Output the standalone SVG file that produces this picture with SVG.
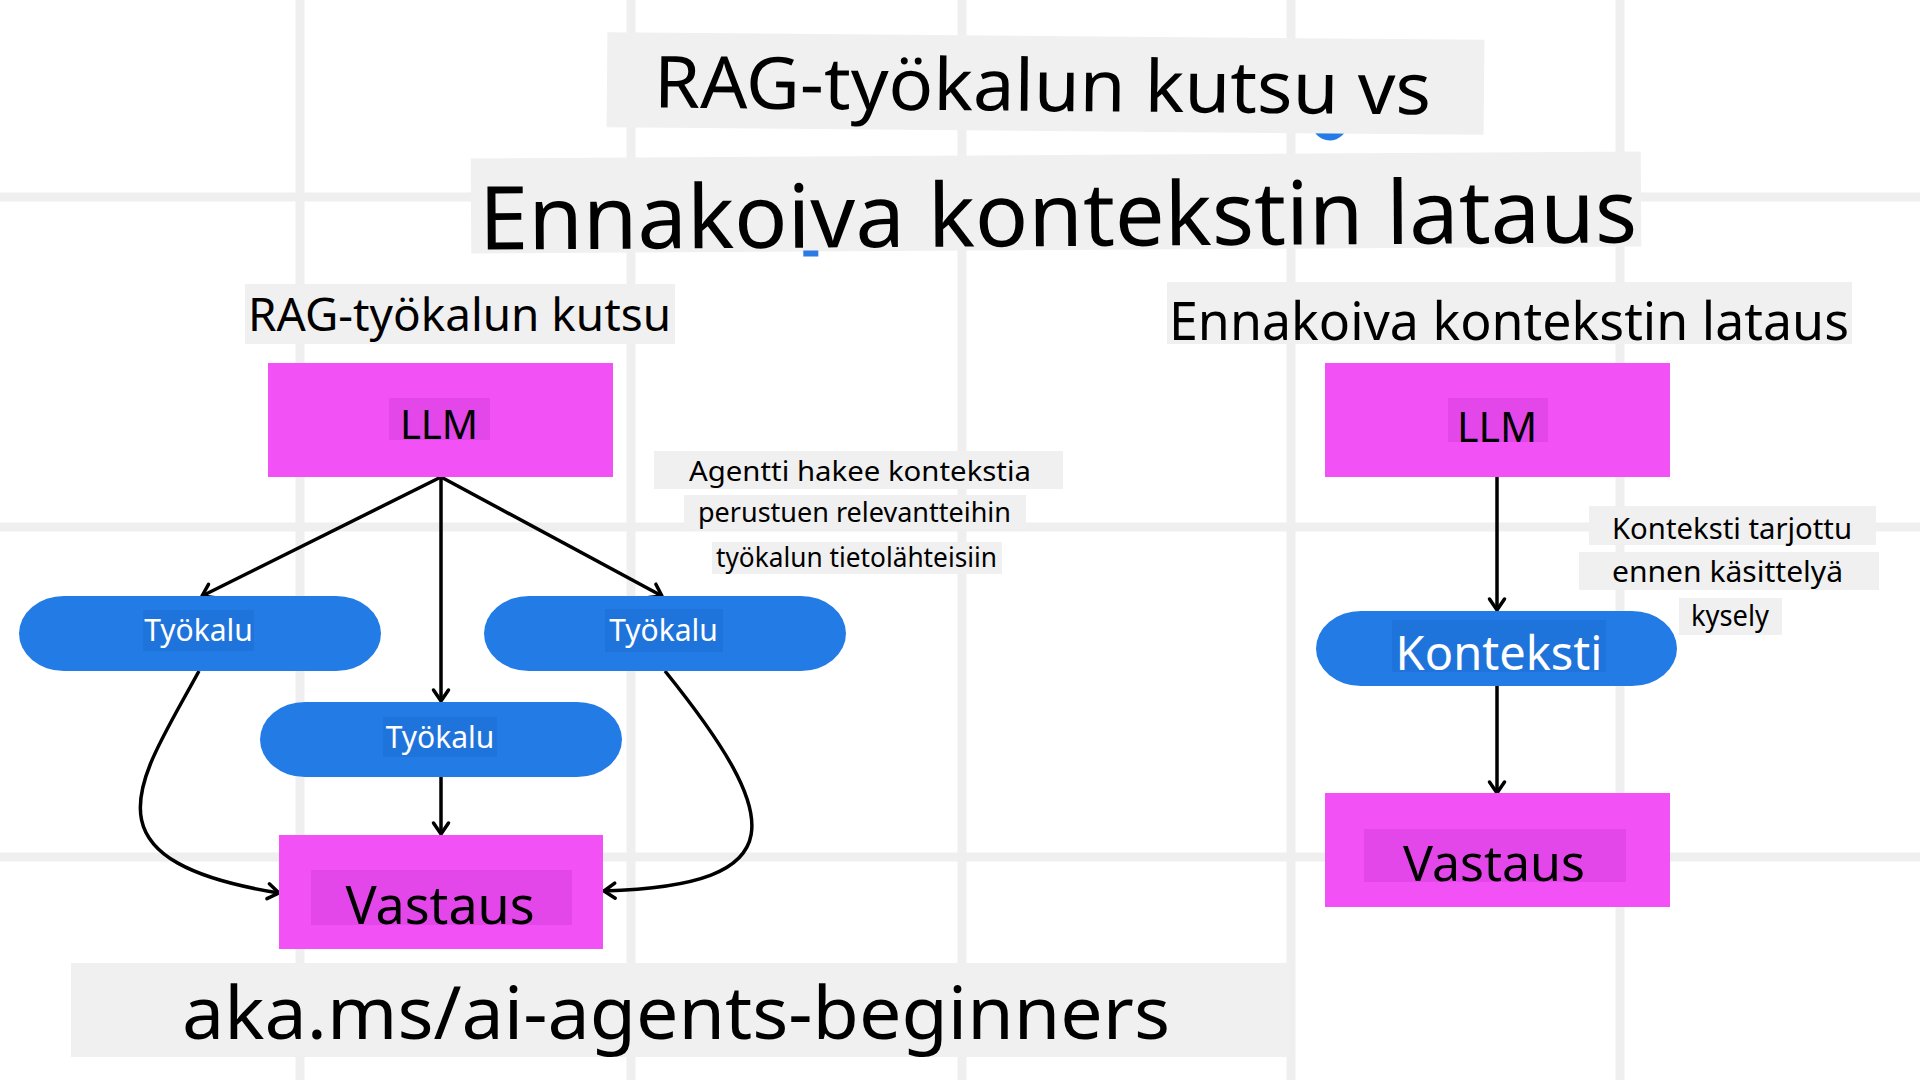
<svg xmlns="http://www.w3.org/2000/svg" width="1920" height="1080" viewBox="0 0 1920 1080">
<defs>
<style>
.grid{stroke:#efefef;stroke-width:9}
.gbox{fill:#f0f0f0}
.mag{fill:#f151f5}
.magin{fill:#e347e9}
.blue{fill:#237be6}
.bluein{fill:#1f74dc}
.t{font-family:"Noto Sans","Open Sans","DejaVu Sans",sans-serif;fill:#000}
.w{font-family:"Noto Sans","Open Sans","DejaVu Sans",sans-serif;fill:#fff}
.edge{fill:none;stroke:#000;stroke-width:3.5;marker-end:url(#arr)}
</style>
<marker id="arr" markerUnits="userSpaceOnUse" viewBox="0 0 14 18" refX="12" refY="9" markerWidth="14" markerHeight="18" orient="auto" overflow="visible">
<path d="M1,1.5 L12,9 L1,16.5" fill="none" stroke="#000" stroke-width="3.5" stroke-linecap="round" stroke-linejoin="round"/>
</marker>
</defs>
<rect width="1920" height="1080" fill="#fff"/>
<g id="grid">
<line class="grid" x1="300" y1="0" x2="300" y2="1080"/>
<line class="grid" x1="631" y1="0" x2="631" y2="1080"/>
<line class="grid" x1="962" y1="0" x2="962" y2="1080"/>
<line class="grid" x1="1291" y1="0" x2="1291" y2="1080"/>
<line class="grid" x1="1620" y1="0" x2="1620" y2="1080"/>
<line class="grid" x1="0" y1="197" x2="1920" y2="197"/>
<line class="grid" x1="0" y1="527" x2="1920" y2="527"/>
<line class="grid" x1="0" y1="857" x2="1920" y2="857"/>
</g>
<g id="title1" transform="rotate(0.5 1045 85)">
<circle cx="1330" cy="120" r="18" fill="#237be6"/>
<rect class="gbox" x="607" y="36" width="877" height="95"/>
<text class="t" x="654" y="111" font-size="72" textLength="777" lengthAdjust="spacingAndGlyphs">RAG-työkalun kutsu vs</text>
</g>
<g id="title2" transform="rotate(-0.35 1056 200)">
<rect class="gbox" x="471" y="155" width="1170" height="95"/>
<text class="t" x="479" y="246" font-size="88" textLength="1158" lengthAdjust="spacingAndGlyphs">Ennakoiva kontekstin lataus</text>
<rect x="803" y="249" width="15" height="6" fill="#2a7be4"/>
</g>
<g id="subtitle-left">
<rect class="gbox" x="245" y="284" width="430" height="60"/>
<text class="t" x="248" y="331" font-size="45" textLength="423" lengthAdjust="spacingAndGlyphs">RAG-työkalun kutsu</text>
</g>
<g id="subtitle-right">
<rect class="gbox" x="1167" y="282" width="685" height="62"/>
<text class="t" x="1169" y="340" font-size="52" textLength="680" lengthAdjust="spacingAndGlyphs">Ennakoiva kontekstin lataus</text>
</g>
<g id="connectors">
<line class="edge" x1="441" y1="477" x2="202" y2="596"/>
<line class="edge" x1="441" y1="477" x2="441" y2="701"/>
<line class="edge" x1="441" y1="477" x2="662" y2="596"/>
<line class="edge" x1="441" y1="777" x2="441" y2="834"/>
<path class="edge" d="M199,671 C140,780 75,860 279,893"/>
<path class="edge" d="M665,671 C785,820 795,885 604,891"/>
<line class="edge" x1="1497" y1="477" x2="1497" y2="610"/>
<line class="edge" x1="1497" y1="686" x2="1497" y2="793"/>
</g>
<g id="llm-left">
<rect class="mag" x="268" y="363" width="345" height="114"/>
<rect class="magin" x="389" y="398" width="101" height="42"/>
<text class="t" x="439" y="439" font-size="40" text-anchor="middle">LLM</text>
</g>
<g id="label-agentti">
<rect class="gbox" x="654" y="451" width="409" height="38"/>
<rect class="gbox" x="684" y="495" width="342" height="34"/>
<rect class="gbox" x="712" y="542" width="290" height="32"/>
<text class="t" x="689" y="481" font-size="28" textLength="342" lengthAdjust="spacingAndGlyphs">Agentti hakee kontekstia</text>
<text class="t" x="698" y="522" font-size="28" textLength="313" lengthAdjust="spacingAndGlyphs">perustuen relevantteihin</text>
<text class="t" x="716" y="567" font-size="27" textLength="281" lengthAdjust="spacingAndGlyphs">työkalun tietolähteisiin</text>
</g>
<g id="tool-1">
<rect class="blue" x="19" y="596" width="362" height="75" rx="45" ry="37.5"/>
<rect class="bluein" x="143" y="610" width="111" height="41"/>
<text class="w" x="198.5" y="641" font-size="30" text-anchor="middle">Työkalu</text>
</g>
<g id="tool-3">
<rect class="blue" x="484" y="596" width="362" height="75" rx="45" ry="37.5"/>
<rect class="bluein" x="605" y="609" width="118" height="43"/>
<text class="w" x="663.5" y="641" font-size="30" text-anchor="middle">Työkalu</text>
</g>
<g id="tool-2">
<rect class="blue" x="260" y="702" width="362" height="75" rx="45" ry="37.5"/>
<rect class="bluein" x="383" y="717" width="114" height="40"/>
<text class="w" x="440" y="748" font-size="30" text-anchor="middle">Työkalu</text>
</g>
<g id="vastaus-left">
<rect class="mag" x="279" y="835" width="324" height="114"/>
<rect class="magin" x="311" y="870" width="261" height="55"/>
<text class="t" x="440" y="924" font-size="52" text-anchor="middle">Vastaus</text>
</g>
<g id="llm-right">
<rect class="mag" x="1325" y="363" width="345" height="114"/>
<rect class="magin" x="1448" y="398" width="100" height="44"/>
<text class="t" x="1497" y="442" font-size="41" text-anchor="middle">LLM</text>
</g>
<g id="label-konteksti">
<rect class="gbox" x="1589" y="506" width="287" height="39"/>
<rect class="gbox" x="1579" y="552" width="300" height="38"/>
<rect class="gbox" x="1679" y="598" width="103" height="37"/>
<text class="t" x="1612" y="539" font-size="29" textLength="240" lengthAdjust="spacingAndGlyphs">Konteksti tarjottu</text>
<text class="t" x="1612" y="582" font-size="29" textLength="231" lengthAdjust="spacingAndGlyphs">ennen käsittelyä</text>
<text class="t" x="1691" y="626" font-size="29" textLength="78" lengthAdjust="spacingAndGlyphs">kysely</text>
</g>
<g id="konteksti">
<rect class="blue" x="1316" y="611" width="361" height="75" rx="45" ry="37.5"/>
<rect class="bluein" x="1392" y="620" width="214" height="52"/>
<text class="w" x="1499" y="670" font-size="47" text-anchor="middle">Konteksti</text>
</g>
<g id="vastaus-right">
<rect class="mag" x="1325" y="793" width="345" height="114"/>
<rect class="magin" x="1364" y="829" width="262" height="53"/>
<text class="t" x="1494" y="881" font-size="50" text-anchor="middle">Vastaus</text>
</g>
<g id="footer">
<rect class="gbox" x="71" y="963" width="1218" height="94"/>
<text class="t" x="182" y="1039" font-size="73" textLength="988" lengthAdjust="spacingAndGlyphs">aka.ms/ai-agents-beginners</text>
</g>
</svg>
